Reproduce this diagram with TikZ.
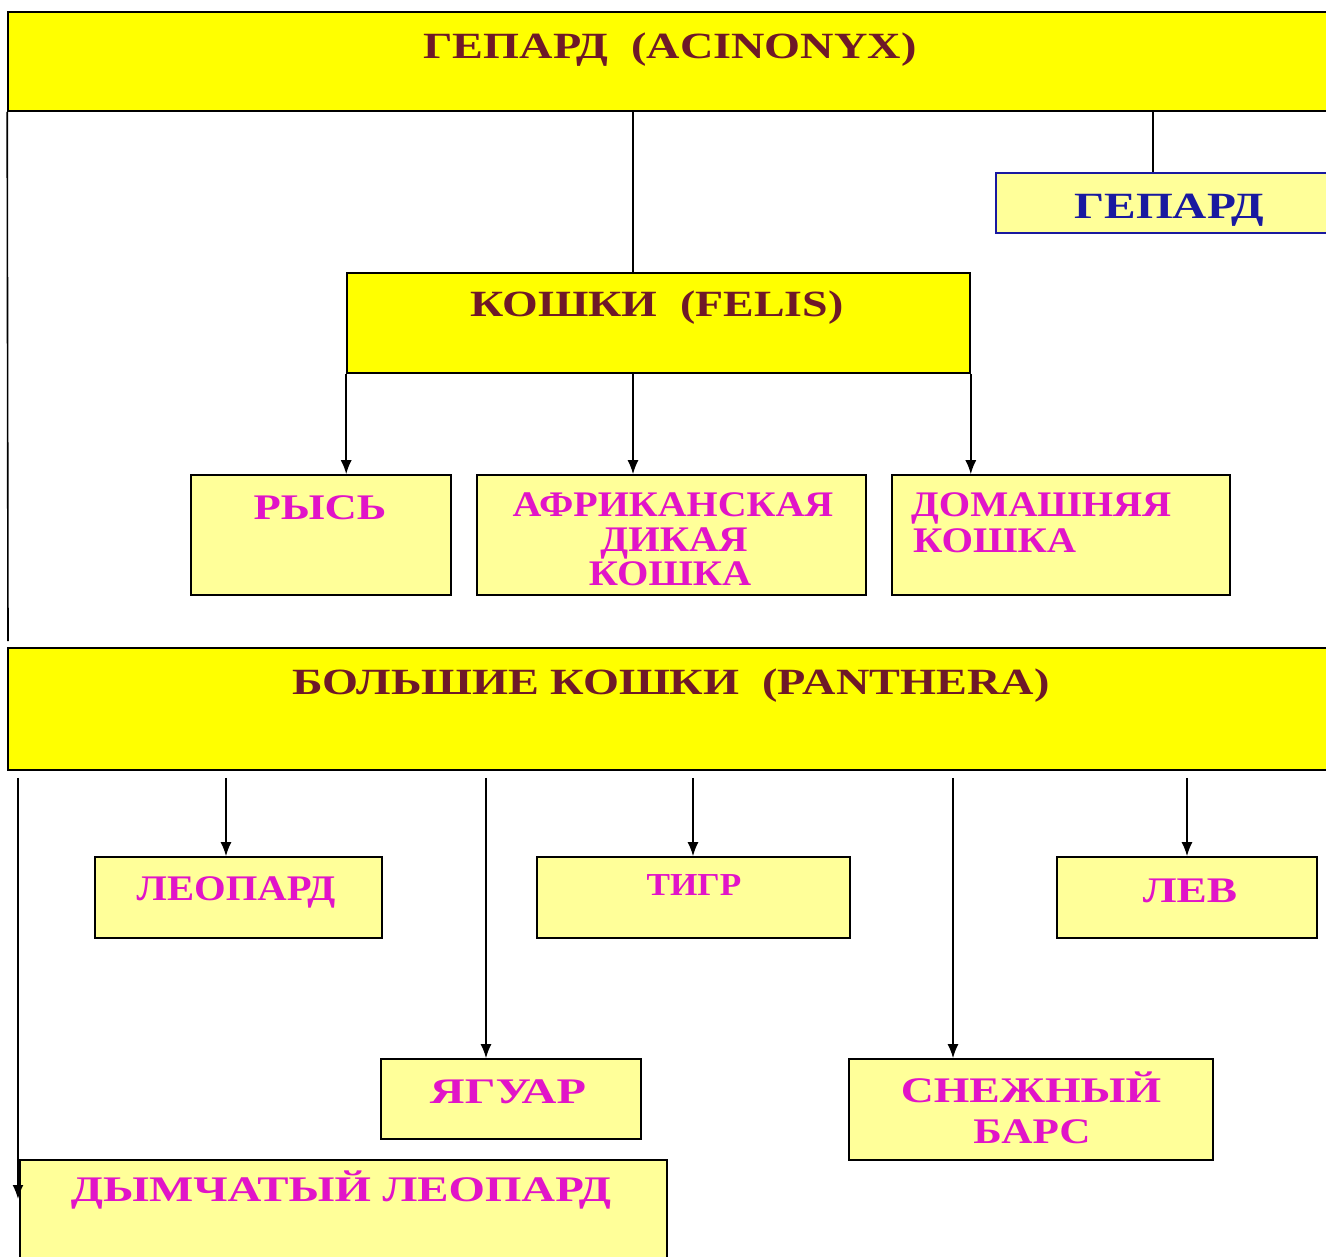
\documentclass[tikz,border=0pt]{standalone}
\usepackage{fontspec}
\setmainfont{Liberation Serif}
\usetikzlibrary{arrows.meta}
\definecolor{ybright}{RGB}{255,255,0}
\definecolor{ylight}{RGB}{255,255,153}
\definecolor{ttlred}{RGB}{110,25,40}
\definecolor{magtxt}{RGB}{225,20,200}
\definecolor{navytxt}{RGB}{25,25,160}
\newcommand{\wx}[2]{\scalebox{#1}[1]{#2}}
\begin{document}
\begin{tikzpicture}[x=1pt,y=-1pt,
  banner/.style={draw=black,line width=1.6pt,fill=ybright,inner sep=0pt},
  box/.style={draw=black,line width=1.6pt,fill=ylight,inner sep=0pt},
  ttl/.style={font=\bfseries\fontsize{37}{40}\selectfont,text=ttlred,inner sep=0pt,anchor=base},
  lbl/.style={font=\bfseries\fontsize{36}{38}\selectfont,text=magtxt,inner sep=0pt,anchor=base},
  conn/.style={line width=1.6pt},
  arr/.style={conn,-{Latex[length=14pt,width=11pt]}},
  parr/.style={arr,shorten <=7pt}
]
\useasboundingbox[fill=white] (0,0) rectangle (1326,1257);
% boxes
\node[banner,minimum width=1332pt,minimum height=99pt] (acin) at (674,61.5) {};
\node[box,draw=navytxt,minimum width=344pt,minimum height=60pt] (gep) at (1168,203) {};
\node[banner,minimum width=623pt,minimum height=100pt] (felis) at (658.5,323) {};
\node[box,minimum width=260pt,minimum height=120pt] (rys) at (321,535) {};
\node[box,minimum width=389pt,minimum height=120pt] (afr) at (671.5,535) {};
\node[box,minimum width=338pt,minimum height=120pt] (dom) at (1061,535) {};
\node[banner,minimum width=1332pt,minimum height=122pt] (panth) at (674,709) {};
\node[box,minimum width=287pt,minimum height=81pt] (leo) at (238.5,897.5) {};
\node[box,minimum width=313pt,minimum height=81pt] (tigr) at (693.5,897.5) {};
\node[box,minimum width=260pt,minimum height=81pt] (lev) at (1187,897.5) {};
\node[box,minimum width=260pt,minimum height=80pt] (yag) at (511,1099) {};
\node[box,minimum width=364pt,minimum height=101pt] (sneg) at (1031,1109.5) {};
\node[box,minimum width=647pt,minimum height=110pt] (dym) at (343.5,1215) {};
% texts
\node[ttl] (tacin) at (670,59) {\wx{1.25}{ГЕПАРД\ \ (ACINONYX)}};
\node[ttl,text=navytxt] (tgep) at (1169,219) {\wx{1.28}{ГЕПАРД}};
\node[ttl] (tfelis) at (657,317) {\wx{1.24}{КОШКИ\ \ (FELIS)}};
\node[ttl] (tpanth) at (671,694) {\wx{1.25}{БОЛЬШИЕ КОШКИ\ \ (PANTHERA)}};
\node[lbl] (trys) at (320,519) {\wx{1.24}{РЫСЬ}};
\node[lbl] (tafr1) at (673,516) {\wx{1.11}{АФРИКАНСКАЯ}};
\node[lbl] (tafr2) at (674,551) {\wx{1.125}{ДИКАЯ}};
\node[lbl] (tafr3) at (670,585) {\wx{1.12}{КОШКА}};
\node[lbl,anchor=base west] (tdom1) at (911,516) {\wx{1.12}{ДОМАШНЯЯ}};
\node[lbl,anchor=base west] (tdom2) at (913,552) {\wx{1.125}{КОШКА}};
\node[lbl] (tleo) at (236,900) {\wx{1.13}{ЛЕОПАРД}};
\node[lbl,font=\bfseries\fontsize{32}{34}\selectfont] (ttigr) at (694,895) {\wx{1.1}{ТИГР}};
\node[lbl] (tlev) at (1190,902) {\wx{1.26}{ЛЕВ}};
\node[lbl] (tyag) at (508,1103) {\wx{1.34}{ЯГУАР}};
\node[lbl] (tsneg1) at (1031,1102) {\wx{1.27}{СНЕЖНЫЙ}};
\node[lbl] (tsneg2) at (1032,1143) {\wx{1.2}{БАРС}};
\node[lbl] (tdym) at (341,1201) {\wx{1.3}{ДЫМЧАТЫЙ ЛЕОПАРД}};
% connectors
\coordinate (leftend) at (8,641);
\coordinate (dymend) at (18,1199);
\draw[conn] (acin.south west) -- (leftend);
\draw[conn] (acin.south -| 633,0) -- (felis.north -| 633,0);
\draw[conn] (acin.south -| 1153,0) -- (gep.north -| 1153,0);
\draw[arr] (felis.south west) -- (rys.north -| felis.south west);
\draw[arr] (felis.south -| 633,0) -- (afr.north -| 633,0);
\draw[arr] (felis.south east) -- (dom.north -| felis.south east);
\draw[parr] (panth.south -| dymend) -- (dymend);
\draw[parr] (panth.south -| 226,0) -- (leo.north -| 226,0);
\draw[parr] (panth.south -| 486,0) -- (yag.north -| 486,0);
\draw[parr] (panth.south -| 693,0) -- (tigr.north -| 693,0);
\draw[parr] (panth.south -| 953,0) -- (sneg.north -| 953,0);
\draw[parr] (panth.south -| 1187,0) -- (lev.north -| 1187,0);
\end{tikzpicture}
\end{document}
